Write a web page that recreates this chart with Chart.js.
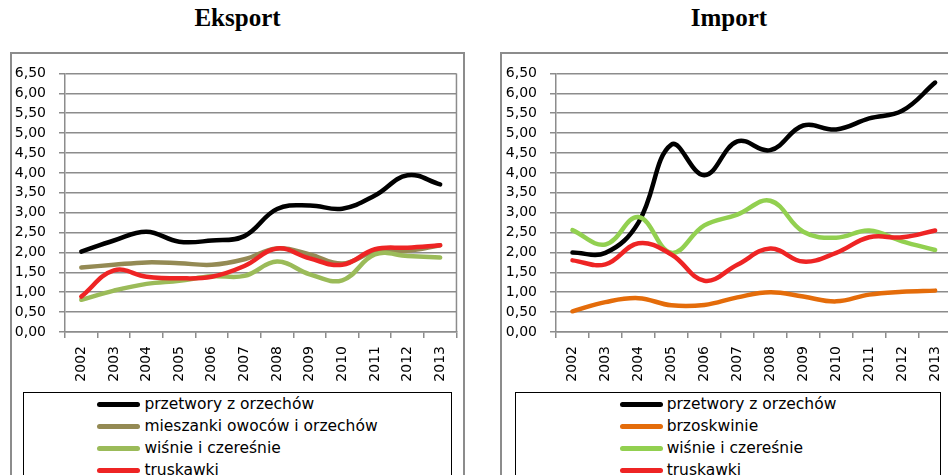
<!DOCTYPE html>
<html>
<head>
<meta charset="utf-8">
<script src="https://cdn.jsdelivr.net/npm/chart.js@4.4.1/dist/chart.umd.min.js"></script>
<style>
  body { margin: 0; background: #fff; }
  #wrap { position: relative; width: 948px; height: 475px; overflow: hidden; background: #fff; }
  .title { position: absolute; top: 4px; font: bold 25px "Liberation Serif", serif; text-align: center; color: #000; }
  .box { position: absolute; top: 52px; }
  .legend { position: absolute; top: 340px; height: 120px; border: 1.5px solid #000; box-sizing: border-box;
            background: #fff; text-align: center; font: 15.5px "DejaVu Sans", sans-serif; color: #000; }
  .legend .inner { display: inline-block; text-align: left; }
  .legend .row { height: 22px; line-height: 22px; white-space: nowrap; }
  .legend .sw { display: inline-block; width: 43px; height: 5px; border-radius: 3px; vertical-align: middle; margin-right: 4px; }
</style>
</head>
<body>
<div id="wrap">
  <div class="title" style="left:10px;width:455px;">Eksport</div>
  <div class="title" style="left:500px;width:458px;">Import</div>
  <div class="box" style="left:10px;"><canvas id="exp" width="455" height="423"></canvas>
    <div class="legend" id="expLegend" style="left:13px;width:429px;"></div></div>
  <div class="box" style="left:500px;"><canvas id="imp" width="460" height="423"></canvas>
    <div class="legend" id="impLegend" style="left:15px;width:426px;"></div></div>
</div>
<script>
const years = ['2002','2003','2004','2005','2006','2007','2008','2009','2010','2011','2012','2013'];

// Eksport
const expNuts    = [2.02, 2.30, 2.52, 2.27, 2.30, 2.41, 3.09, 3.18, 3.10, 3.43, 3.94, 3.71];
const expMix     = [1.62, 1.69, 1.75, 1.73, 1.69, 1.83, 2.10, 1.95, 1.72, 2.02, 2.04, 2.18];
const expCherry  = [0.81, 1.04, 1.21, 1.29, 1.40, 1.41, 1.77, 1.45, 1.30, 1.95, 1.91, 1.87];
const expStraw   = [0.89, 1.55, 1.39, 1.35, 1.39, 1.66, 2.10, 1.85, 1.69, 2.08, 2.12, 2.18];

// Import
const impNuts    = [2.00, 1.99, 2.75, 4.71, 3.94, 4.79, 4.57, 5.19, 5.09, 5.37, 5.56, 6.27];
const impPeach   = [0.52, 0.75, 0.85, 0.67, 0.68, 0.87, 1.00, 0.89, 0.77, 0.94, 1.01, 1.04];
const impCherry  = [2.56, 2.20, 2.89, 1.99, 2.68, 2.95, 3.30, 2.52, 2.37, 2.55, 2.28, 2.06];
const impStraw   = [1.80, 1.70, 2.23, 1.95, 1.29, 1.69, 2.10, 1.77, 1.99, 2.38, 2.38, 2.55];

const expNames = ['przetwory z orzechów', 'mieszanki owoców i orzechów', 'wiśnie i czereśnie', 'truskawki'];
const impNames = ['przetwory z orzechów', 'brzoskwinie', 'wiśnie i czereśnie', 'truskawki'];
const expColors = ['#000000', '#948A54', '#9BBB59', '#EE2424'];
const impColors = ['#000000', '#E46C0A', '#92D050', '#EE2424'];

const axisGrey = '#8C8C8C';
const tickFont = { family: 'DejaVu Sans', size: 14 };

const frame = {
  id: 'frame',
  beforeDraw(chart) {
    const c = chart.ctx;
    c.save();
    c.fillStyle = '#fff';
    c.fillRect(0, 0, chart.width, chart.height);
    c.strokeStyle = axisGrey;
    c.lineWidth = 2;
    c.strokeRect(1, 1, chart.width - 2, chart.height + 20);
    c.restore();
  },
  afterDraw(chart) {
    const a = chart.chartArea, c = chart.ctx;
    c.save();
    c.strokeStyle = axisGrey;
    c.lineWidth = 1.5;
    c.beginPath();
    c.moveTo(a.right, a.top);
    c.lineTo(a.right, a.bottom);
    c.stroke();
    c.restore();
  }
};

function buildSets(series, names, colors) {
  return series.map((d, i) => ({
    label: names[i],
    data: d,
    borderColor: colors[i],
    backgroundColor: colors[i],
    order: series.length - i
  }));
}

function makeChart(id, sets, yWidth, rightPad) {
  return new Chart(document.getElementById(id), {
    type: 'line',
    data: { labels: years, datasets: sets },
    options: {
      responsive: false,
      animation: false,
      layout: { padding: { top: 19, right: rightPad, left: 0, bottom: 0 } },
      plugins: { legend: { display: false }, tooltip: { enabled: false } },
      elements: {
        point: { radius: 0 },
        line: { borderWidth: 4.5, tension: 0.4, borderCapStyle: 'round', borderJoinStyle: 'round' }
      },
      scales: {
        x: {
          offset: true,
          grid: { offset: true, drawOnChartArea: false, tickLength: 6, color: axisGrey, lineWidth: 1.5 },
          border: { color: axisGrey, width: 1.5 },
          ticks: { minRotation: 90, maxRotation: 90, autoSkip: false, padding: 8, color: '#000', font: tickFont },
          afterFit: s => { s.height = 143; }
        },
        y: {
          min: 0, max: 6.5,
          grid: { color: axisGrey, lineWidth: 1.5, tickLength: 6 },
          border: { color: axisGrey, width: 1.5 },
          ticks: { stepSize: 0.5, autoSkip: false, padding: 13, color: '#000', font: tickFont,
                   callback: v => v.toFixed(2).replace('.', ',') },
          afterFit: s => { s.width = yWidth; }
        }
      }
    },
    plugins: [frame]
  });
}

function buildLegend(elId, names, colors) {
  const el = document.getElementById(elId);
  const inner = document.createElement('div');
  inner.className = 'inner';
  names.forEach((n, i) => {
    const row = document.createElement('div');
    row.className = 'row';
    const sw = document.createElement('span');
    sw.className = 'sw';
    sw.style.background = colors[i];
    row.appendChild(sw);
    row.appendChild(document.createTextNode(n));
    inner.appendChild(row);
  });
  el.appendChild(inner);
}

makeChart('exp', buildSets([expNuts, expMix, expCherry, expStraw], expNames, expColors), 55, 1);
makeChart('imp', buildSets([impNuts, impPeach, impCherry, impStraw], impNames, impColors), 56, 2);
buildLegend('expLegend', expNames, expColors);
buildLegend('impLegend', impNames, impColors);
</script>
</body>
</html>
